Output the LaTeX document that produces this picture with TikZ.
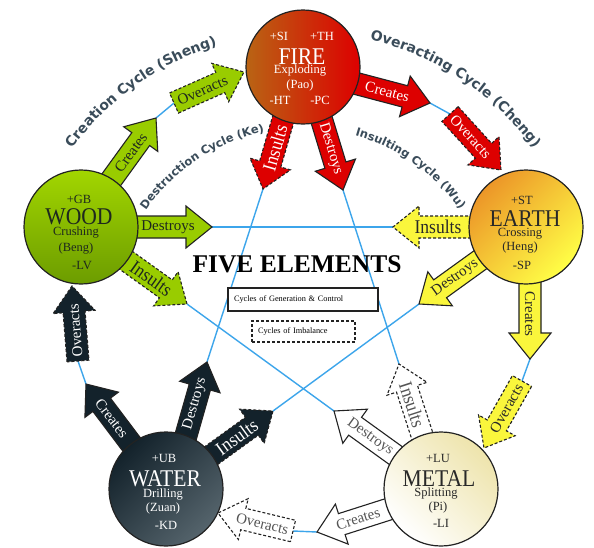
\documentclass[tikz,border=0pt]{standalone}
\usepackage{fontspec}
\setmainfont{Liberation Serif}
\newfontfamily\narrowserif{Liberation Serif}[FakeStretch=0.9]
\newfontfamily\cyclefont{DejaVu Sans}
\usetikzlibrary{calc,decorations.text}

\definecolor{woodg}{RGB}{153,204,0}
\definecolor{firer}{RGB}{221,0,0}
\definecolor{earthy}{RGB}{250,246,60}
\definecolor{waterd}{RGB}{19,34,43}
\definecolor{linkblue}{RGB}{60,165,235}
\definecolor{slate}{RGB}{58,76,90}
\definecolor{edgegray}{RGB}{34,34,34}
\definecolor{gtext}{RGB}{30,40,30}
\definecolor{ytext}{RGB}{40,40,40}
\definecolor{mtext}{RGB}{85,85,85}

% block arrow: #1 style, #2 tail extension, #3 start, #4 tip, #5 extra text angle, #6 text style, #7 text
\newcommand{\blockarr}[7]{%
  \path[#1] let \p1=($(#4)-(#3)$), \n1={atan2(\y1,\x1)}, \n2={veclen(\x1,\y1)},
      \n3={(\n2-26)/2+6}, \n4={\n1+#5} in
    ($(#3)+(\n1:-#2)+(\n1+90:11)$) -- ($(#3)+(\n1:\n2-26)+(\n1+90:11)$)
    -- ($(#3)+(\n1:\n2-26)+(\n1+90:21)$) -- (#4)
    -- ($(#3)+(\n1:\n2-26)+(\n1-90:21)$) -- ($(#3)+(\n1:\n2-26)+(\n1-90:11)$)
    -- ($(#3)+(\n1:-#2)+(\n1-90:11)$) -- cycle
    node[rotate=\n4, inner sep=0pt, #6] at ($(#3)+(\n1:\n3)$) {#7};
}

\tikzset{
  arrbase/.style={draw=edgegray, line width=1.1pt, line join=miter},
  dsh/.style={dash pattern=on 3pt off 2pt},
  garr/.style={arrbase, fill=woodg}, garrd/.style={garr, dsh},
  rarr/.style={arrbase, fill=firer}, rarrd/.style={rarr, dsh},
  yarr/.style={arrbase, fill=earthy}, yarrd/.style={yarr, dsh},
  marr/.style={arrbase, fill=white}, marrd/.style={marr, dsh},
  darr/.style={arrbase, fill=waterd}, darrd/.style={darr, dsh},
  atxt/.style={font=\fontsize{15}{15}\selectfont},
  ins/.style={font=\narrowserif\fontsize{19.5}{19.5}\selectfont},
  gtxt/.style={atxt, text=gtext},
  rtxt/.style={atxt, text=white},
  ytxt/.style={atxt, text=ytext},
  mtxt/.style={atxt, text=mtext},
  dtxt/.style={atxt, text=white},
  link/.style={draw=linkblue, line width=1.4pt},
  elem/.style={circle, minimum size=114pt, inner sep=0pt, draw=edgegray, line width=1.2pt},
  small/.style={font=\fontsize{12.5}{13}\selectfont, inner sep=0pt},
  big/.style={font=\narrowserif\fontsize{24}{24}\selectfont, inner sep=0pt},
  cyc/.style={decorate, decoration={text along path, text align=center, text color=slate}},
}

\begin{document}
\begin{tikzpicture}[x=1pt,y=1pt]
\useasboundingbox (0,0) rectangle (594,-547);
\fill[white] (0,0) rectangle (594,-547);

% ---------- coordinates ----------
% outer cycle
\coordinate (wc1) at (114,-176); \coordinate (wc2) at (156,-118);
\coordinate (wo1) at (174,-103); \coordinate (wo2) at (244,-72);
\coordinate (fc1) at (358,-84);  \coordinate (fc2) at (430,-103);
\coordinate (fo1) at (450,-114); \coordinate (fo2) at (501,-170);
\coordinate (ec1) at (530,-283); \coordinate (ec2) at (530,-359);
\coordinate (eo1) at (522,-381); \coordinate (eo2) at (484,-448);
\coordinate (mc1) at (386,-510); \coordinate (mc2) at (317,-532);
\coordinate (mo1) at (293,-531); \coordinate (mo2) at (218,-513);
\coordinate (vc1) at (129,-441); \coordinate (vc2) at (86,-384);
\coordinate (vo1) at (78,-361);  \coordinate (vo2) at (72,-286);
% star
\coordinate (wd1) at (138,-227); \coordinate (wd2) at (212,-227);
\coordinate (ei1) at (469,-227); \coordinate (ei2) at (393,-227);
\coordinate (fd1) at (322,-121); \coordinate (fd2) at (343,-190);
\coordinate (mi1) at (421,-432); \coordinate (mi2) at (399,-364);
\coordinate (fi1) at (283,-120); \coordinate (fi2) at (263,-189);
\coordinate (vd1) at (187,-432); \coordinate (vd2) at (207,-362);
\coordinate (ed1) at (480,-260); \coordinate (ed2) at (419,-304);
\coordinate (vi1) at (212,-455); \coordinate (vi2) at (273,-411);
\coordinate (md1) at (395,-455); \coordinate (md2) at (334,-411);
\coordinate (wi1) at (127,-261); \coordinate (wi2) at (187,-304);

% ---------- blue links ----------
\draw[link] (wc2) -- (wo1);
\draw[link] (fc2) -- (fo1);
\draw[link] (ec2) -- (eo1);
\draw[link] (mc2) -- (mo1);
\draw[link] (vc2) -- (vo1);
\draw[link] (wd2) -- (ei2);
\draw[link] (fd2) -- (mi2);
\draw[link] (fi2) -- (vd2);
\draw[link] (ed2) -- (vi2);
\draw[link] (md2) -- (wi2);

% ---------- block arrows ----------
\blockarr{garr}{12}{wc1}{wc2}{0}{gtxt}{Creates}
\blockarr{garrd}{0}{wo1}{wo2}{0}{gtxt}{Overacts}
\blockarr{garr}{12}{wd1}{wd2}{0}{gtxt}{Destroys}
\blockarr{garrd}{12}{wi1}{wi2}{0}{gtxt,ins}{Insults}

\blockarr{rarr}{12}{fc1}{fc2}{0}{rtxt}{Creates}
\blockarr{rarrd}{0}{fo1}{fo2}{0}{rtxt}{Overacts}
\blockarr{rarr}{12}{fd1}{fd2}{0}{rtxt}{Destroys}
\blockarr{rarrd}{12}{fi1}{fi2}{180}{rtxt,ins}{Insults}

\blockarr{yarr}{12}{ec1}{ec2}{0}{ytxt}{Creates}
\blockarr{yarrd}{0}{eo1}{eo2}{180}{ytxt}{Overacts}
\blockarr{yarr}{12}{ed1}{ed2}{180}{ytxt}{Destroys}
\blockarr{yarrd}{12}{ei1}{ei2}{180}{ytxt,ins}{Insults}

\blockarr{marr}{12}{mc1}{mc2}{180}{mtxt}{Creates}
\blockarr{marrd}{0}{mo1}{mo2}{180}{mtxt}{Overacts}
\blockarr{marr}{12}{md1}{md2}{180}{mtxt}{Destroys}
\blockarr{marrd}{12}{mi1}{mi2}{180}{mtxt,ins}{Insults}

\blockarr{darr}{12}{vc1}{vc2}{180}{dtxt}{Creates}
\blockarr{darrd}{0}{vo1}{vo2}{0}{dtxt}{Overacts}
\blockarr{darr}{12}{vd1}{vd2}{0}{dtxt}{Destroys}
\blockarr{darrd}{12}{vi1}{vi2}{0}{dtxt,ins}{Insults}

% ---------- element circles ----------
\node[elem, left color={rgb,255:red,185;green,100;blue,20}, middle color={rgb,255:red,214;green,28;blue,6}, right color=firer] (fire) at (303,-67) {};
\node[elem, top color={rgb,255:red,162;green,214;blue,0}, middle color=woodg, bottom color={rgb,255:red,108;green,156;blue,0}] (wood) at (81,-227) {};
\node[elem, top color={rgb,255:red,236;green,150;blue,40}, middle color={rgb,255:red,253;green,228;blue,52}, bottom color={rgb,255:red,255;green,255;blue,70}, shading angle=45] (earth) at (526,-227) {};
\node[elem, top color=waterd, middle color={rgb,255:red,24;green,40;blue,50}, bottom color={rgb,255:red,85;green,100;blue,108}, shading angle=45] (water) at (166,-489) {};
\node[elem, top color={rgb,255:red,238;green,228;blue,172}, middle color=white, bottom color=white, shading angle=-45] (metal) at (441,-489) {};

% ---------- element texts ----------
\node[small, text=white] (fSI) at (279,-36) {+SI};
\node[small, text=white] (fTH) at (322,-36) {+TH};
\node[big, text=white] (fName) at (302,-57) {FIRE};
\node[small, text=white] (fEx) at (300,-71) {Exploding};
\node[small, text=white] (fPao) at (300,-85) {(Pao)};
\node[small, text=white] (fHT) at (280,-100) {-HT};
\node[small, text=white] (fPC) at (320,-100) {-PC};

\node[small, text=gtext] (wGB) at (79,-199) {+GB};
\node[big, text=gtext] (wName) at (79,-217) {WOOD};
\node[small, text=gtext] (wCr) at (76,-233) {Crushing};
\node[small, text=gtext] (wBeng) at (76,-249) {(Beng)};
\node[small, text=gtext] (wLV) at (82,-265) {-LV};

\node[small, text=ytext] (eST) at (522,-200) {+ST};
\node[big, text=ytext] (eName) at (525,-219) {EARTH};
\node[small, text=ytext] (eCr) at (520,-234) {Crossing};
\node[small, text=ytext] (eHeng) at (520,-248) {(Heng)};
\node[small, text=ytext] (eSP) at (522,-265) {-SP};

\node[small, text=white] (vUB) at (164,-458) {+UB};
\node[big, text=white] (vName) at (165,-479) {WATER};
\node[small, text=white] (vDr) at (163,-495) {Drilling};
\node[small, text=white] (vZuan) at (163,-508) {(Zuan)};
\node[small, text=white] (vKD) at (166,-525) {-KD};

\node[small, text=ytext] (mLU) at (438,-458) {+LU};
\node[big, text=ytext] (mName) at (439,-479) {METAL};
\node[small, text=ytext] (mSp) at (436,-494) {Splitting};
\node[small, text=ytext] (mPi) at (438,-507) {(Pi)};
\node[small, text=ytext] (mLI) at (441,-523) {-LI};

% ---------- title and legend ----------
\node[font=\bfseries\fontsize{25.5}{26}\selectfont, inner sep=0pt] (title) at (297,-264) {FIVE ELEMENTS};
\node[draw=edgegray, line width=1.5pt, fill=white, text width=138pt, inner sep=6pt, minimum height=23pt, align=left, font=\fontsize{8.3}{9}\selectfont] (legA) at (303,-299.5) {Cycles of Generation \& Control};
\node[draw=edgegray, line width=1.3pt, dsh, fill=white, text width=91pt, inner sep=6pt, minimum height=21pt, align=left, font=\fontsize{8.3}{9}\selectfont] (legB) at (303.5,-331.5) {Cycles of Imbalance};

% ---------- cycle labels ----------
\path[cyc, decoration={text={|\cyclefont\bfseries\fontsize{14}{14}\selectfont|Creation Cycle (Sheng)}}]
  ([shift={(303,-319)}]165.5:287) arc[start angle=165.5, end angle=85.5, radius=287];
\path[cyc, decoration={text={|\cyclefont\bfseries\fontsize{14}{14}\selectfont|Overacting Cycle (Cheng)}}]
  ([shift={(303,-319)}]96.5:287) arc[start angle=96.5, end angle=16.5, radius=287];
\path[cyc, decoration={text={|\cyclefont\bfseries\fontsize{11.5}{12}\selectfont|Destruction Cycle (Ke)}}]
  ([shift={(303,-319)}]163.5:191) arc[start angle=163.5, end angle=83.5, radius=191];
\path[cyc, decoration={text={|\cyclefont\bfseries\fontsize{11.5}{12}\selectfont|Insulting Cycle (Wu)}}]
  ([shift={(303,-319)}]94.5:191) arc[start angle=94.5, end angle=14.5, radius=191];
\end{tikzpicture}
\end{document}
